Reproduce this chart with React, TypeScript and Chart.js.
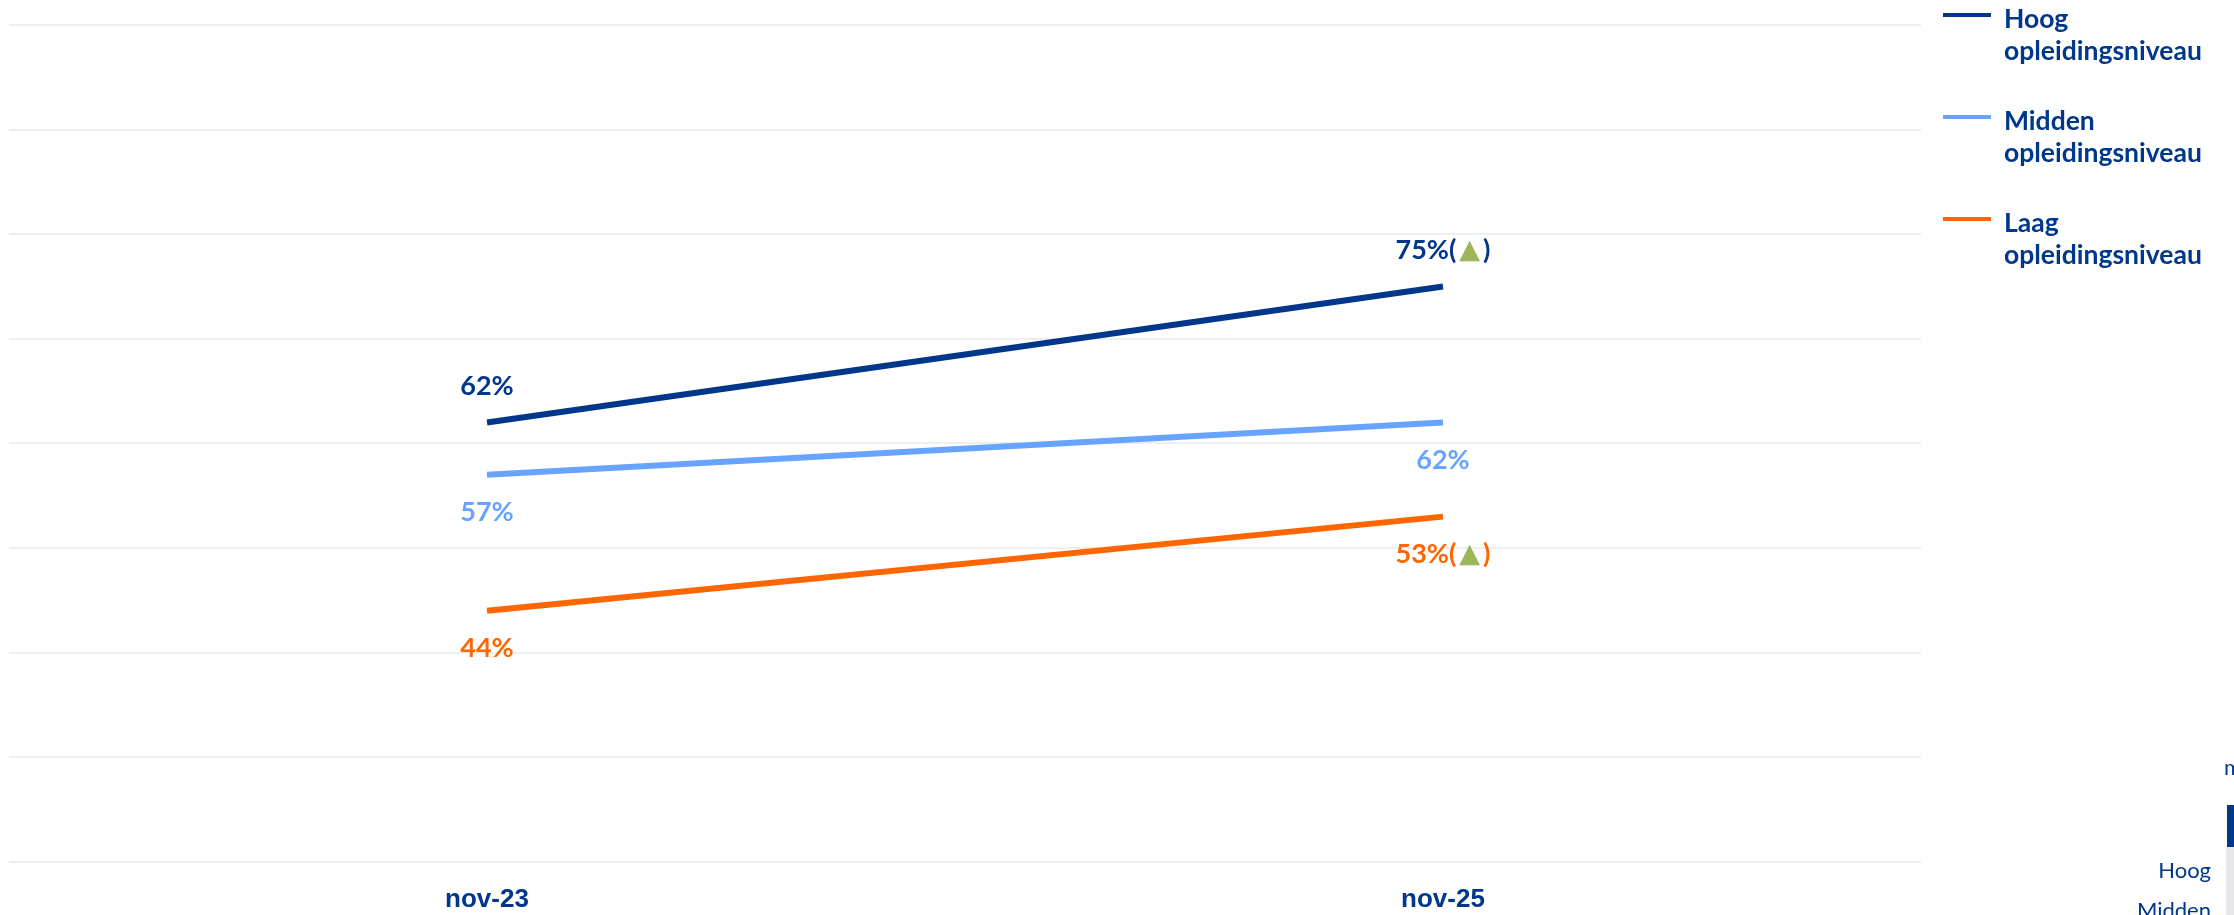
import React, { useEffect, useRef } from "react";
import { Chart, registerables } from "chart.js";

Chart.register(...registerables);

const categories = ["nov-23", "nov-25"];
const seriesNames = ["Hoog opleidingsniveau", "Midden opleidingsniveau", "Laag opleidingsniveau"];
const hoogValues = [62, 75];
const middenValues = [57, 62];
const laagValues = [44, 53];
const hoogTrend = ["", "▲"];
const middenTrend = ["", ""];
const laagTrend = ["", "▲"];
const labelSides = ["above", "below", "below"];
const yTicks = { min: 20, max: 100, step: 10 };

const COLORS = ["#00378A", "#68A4FF", "#FF6600"];
const GREEN = "#9BB75A";
const NAVY = "#00378A";
const LABEL_FONT = "bold 27px Lato, 'DejaVu Sans', sans-serif";
const TRI_FONT = "27px 'DejaVu Sans', sans-serif";

const trends = [hoogTrend, middenTrend, laagTrend];

const valueLabelPlugin = {
  id: "valueLabels",
  afterDatasetsDraw(chart: any) {
    const ctx = chart.ctx;
    ctx.save();
    ctx.textBaseline = "middle";
    ctx.textAlign = "left";
    chart.data.datasets.forEach((ds: any, i: number) => {
      const meta = chart.getDatasetMeta(i);
      meta.data.forEach((pt: any, j: number) => {
        const v = ds.data[j];
        const parts: { t: string; c: string; f: string; pad?: number }[] = [
          { t: `${v}%`, c: COLORS[i], f: LABEL_FONT },
        ];
        const tr = trends[i][j];
        if (tr) {
          parts.push({ t: "(", c: COLORS[i], f: LABEL_FONT, pad: 3 });
          parts.push({ t: tr, c: GREEN, f: TRI_FONT, pad: 3 });
          parts.push({ t: ")", c: COLORS[i], f: LABEL_FONT });
        }
        const widths = parts.map((p) => {
          ctx.font = p.f;
          return ctx.measureText(p.t).width + (p.pad || 0);
        });
        const total = widths.reduce((s, w) => s + w, 0);
        let x = pt.x - total / 2;
        const y = labelSides[i] === "above" ? pt.y - 36 : pt.y + 38;
        parts.forEach((p, k) => {
          ctx.font = p.f;
          ctx.fillStyle = p.c;
          ctx.fillText(p.t, x, y);
          x += widths[k];
        });
      });
    });
    ctx.restore();
  },
};

const legendPlugin = {
  id: "sideLegend",
  afterDraw(chart: any) {
    const ctx = chart.ctx;
    ctx.save();
    ctx.font = "bold 26.5px Lato, sans-serif";
    ctx.textBaseline = "middle";
    ctx.textAlign = "left";
    chart.data.datasets.forEach((ds: any, i: number) => {
      const top = 15 + i * 102;
      ctx.strokeStyle = ds.borderColor;
      ctx.lineWidth = 4;
      ctx.beginPath();
      ctx.moveTo(1943, top);
      ctx.lineTo(1991, top);
      ctx.stroke();
      const label: string = ds.label;
      const idx = label.indexOf(" ");
      const l1 = label.slice(0, idx);
      const l2 = label.slice(idx + 1);
      ctx.fillStyle = NAVY;
      ctx.fillText(l1, 2004, top + 4);
      ctx.fillText(l2, 2004, top + 36);
    });
    ctx.restore();
  },
};

export default function App() {
  const ref = useRef<HTMLCanvasElement | null>(null);
  useEffect(() => {
    if (!ref.current) return;
    const chart = new Chart(ref.current, {
      type: "line",
      data: {
        labels: categories,
        datasets: [
          { label: seriesNames[0], data: hoogValues, borderColor: COLORS[0], backgroundColor: COLORS[0] },
          { label: seriesNames[1], data: middenValues, borderColor: COLORS[1], backgroundColor: COLORS[1] },
          { label: seriesNames[2], data: laagValues, borderColor: COLORS[2], backgroundColor: COLORS[2] },
        ].map((d) => ({ ...d, borderWidth: 6, pointRadius: 0, tension: 0, fill: false })),
      },
      options: {
        animation: false,
        responsive: false,
        maintainAspectRatio: false,
        layout: { padding: { left: 9, right: 313, top: 25, bottom: -22 } },
        plugins: { legend: { display: false }, tooltip: { enabled: false } },
        scales: {
          x: {
            offset: true,
            grid: { display: false, drawTicks: false },
            border: { display: false },
            ticks: {
              color: NAVY,
              padding: 22,
              font: { family: "'Liberation Sans', Arial, sans-serif", size: 26, weight: "bold" },
            },
          },
          y: {
            min: yTicks.min,
            max: yTicks.max,
            ticks: { display: false, stepSize: yTicks.step },
            grid: { color: "#efefef", lineWidth: 2, drawTicks: false },
            border: { display: false },
          },
        },
      },
      plugins: [valueLabelPlugin, legendPlugin],
    });
    return () => chart.destroy();
  }, []);

  const small: React.CSSProperties = {
    position: "absolute",
    fontFamily: "Lato, sans-serif",
    fontSize: 22,
    color: NAVY,
    lineHeight: "26px",
    whiteSpace: "nowrap",
  };

  return (
    <div style={{ position: "fixed", left: 0, top: 0, width: 2234, height: 915, overflow: "hidden", background: "#fff" }}>
      <canvas ref={ref} width={2234} height={915} style={{ position: "absolute", left: 0, top: 0 }} />
      <div style={{ ...small, left: 2224, top: 754 }}>m</div>
      <div style={{ position: "absolute", left: 2227, top: 805, width: 7, height: 42, background: NAVY }} />
      <div style={{ position: "absolute", left: 2226, top: 847, width: 8, height: 68, background: "#e6e7eb" }} />
      <div style={{ ...small, right: 2234 - 2211, top: 857, textAlign: "right" }}>Hoog</div>
      <div style={{ ...small, right: 2234 - 2211, top: 897, textAlign: "right" }}>Midden</div>
    </div>
  );
}
